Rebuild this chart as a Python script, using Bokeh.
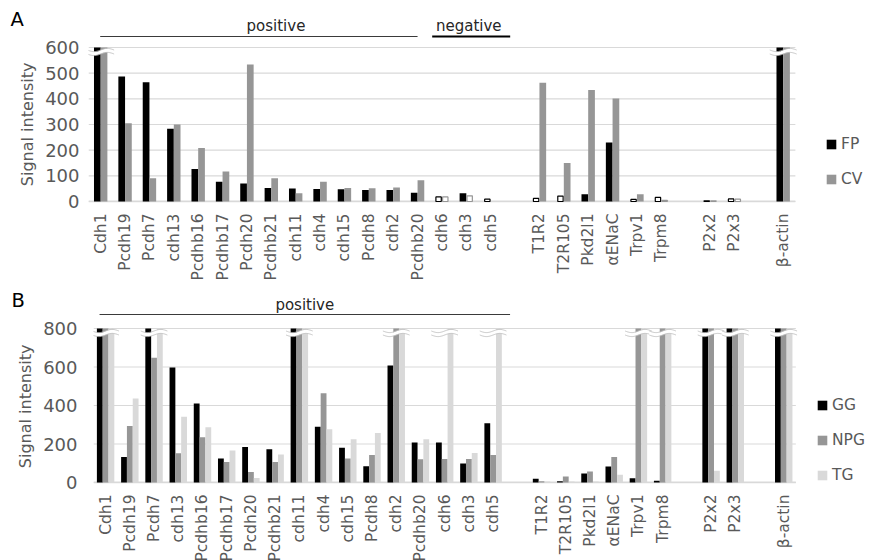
import numpy as np
from bokeh.plotting import figure
from bokeh.models import (ColumnDataSource, FactorRange, Range1d, Legend, LegendItem,
                          Label, FixedTicker)
from bokeh.layouts import column
from bokeh.embed import file_html
from bokeh.resources import INLINE

# ---------------- data ----------------
blocks = [
    ["Cdh1", "Pcdh19", "Pcdh7", "cdh13", "Pcdhb16", "Pcdhb17", "Pcdh20", "Pcdhb21",
     "cdh11", "cdh4", "cdh15", "Pcdh8", "cdh2", "Pcdhb20", "cdh6", "cdh3", "cdh5"],
    ["T1R2", "T2R105", "Pkd2l1", "αENaC", "Trpv1", "Trpm8"],
    ["P2x2", "P2x3"],
    ["β-actin"],
]

# Panel A (values above 600 are drawn broken)
A_FP = [2000, 487, 465, 283, 127, 77, 70, 53, 51, 49, 48, 45, 45, 34, 18, 32, 9,
        12, 21, 28, 230, 8, 16, 3, 10, 2000]
A_CV = [2000, 305, 91, 300, 208, 117, 534, 91, 32, 77, 53, 52, 55, 83, 18, 22, 0,
        463, 150, 434, 401, 28, 4, 3, 9, 2000]
# bars drawn as open (white) boxes
A_FP_open = ["cdh6", "cdh5", "T1R2", "T2R105", "Trpv1", "Trpm8", "P2x2", "P2x3"]
A_CV_open = ["cdh6", "cdh3", "Trpm8", "P2x2", "P2x3"]

# Panel B (values above 800 are drawn broken)
B_GG = [3000, 133, 3000, 597, 410, 125, 185, 173, 3000, 289, 180, 85, 608, 208, 208, 99, 308,
        19, 7, 47, 83, 22, 9, 3000, 3000, 3000]
B_NPG = [3000, 293, 648, 152, 235, 107, 54, 107, 3000, 464, 125, 143, 3000, 121, 122, 122, 143,
         7, 31, 57, 133, 3000, 3000, 3000, 3000, 3000]
B_TG = [3000, 436, 3000, 341, 287, 166, 23, 145, 3000, 277, 225, 257, 3000, 225, 3000, 153, 3000,
        5, 5, 5, 40, 3000, 3000, 61, 3000, 3000]

A_groups = [("positive", "Cdh1", "Pcdhb20"), ("negative", "cdh6", "cdh5")]
B_groups = [("positive", "Cdh1", "cdh5")]

# ---------------- helpers ----------------
FONT = "DejaVu Sans"
TXT = "#595959"
GRID = "#d9d9d9"
NBSP = "\u00a0"

factors = []
slot_of = {}
for bi, blk in enumerate(blocks):
    if bi > 0:
        factors.append(" " * bi)
    for c in blk:
        slot_of[c] = len(factors)
        factors.append(c)
n_data_slots = len(factors)
factors += [" " * k for k in range(len(blocks), len(blocks) + 3)]  # room for legend
cats = [c for blk in blocks for c in blk]
slots = np.array([slot_of[c] for c in cats]) + 0.5


def make_panel(letter, series, names, fills, outlines, open_lists, ymax, ystep,
               left, fw, top_px, grid_top_px, zero_px, bottom, bar_w, groups, grp_px, txt_px,
               tick_standoff, title_standoff, label_standoff, legend_loc,
               letter_x_px, letter_y_px, title_pad):
    # page-pixel geometry: frame top at top_px, top gridline at grid_top_px, zero at zero_px
    px = ymax / float(zero_px - grid_top_px)
    fh = zero_px - top_px + 1
    y_end = ymax + (grid_top_px - top_px) * px
    p = figure(frame_width=fw, frame_height=fh,
               x_range=FactorRange(factors=factors), y_range=Range1d(-1 * px, y_end),
               output_backend="svg", toolbar_location=None,
               min_border_left=left, min_border_right=0,
               min_border_top=0, min_border_bottom=bottom)
    p.frame_align = False
    p.outline_line_color = None
    p.background_fill_color = "white"
    p.border_fill_color = "white"

    # gridlines and base line
    ticks = list(range(0, ymax + 1, ystep))
    p.segment(x0=[0] * len(ticks), x1=[n_data_slots] * len(ticks), y0=ticks, y1=ticks,
              line_color=GRID, line_width=1.2)
    p.segment(x0=[0], x1=[n_data_slots], y0=[0], y1=[0], line_color=GRID, line_width=2)

    n = len(series)
    items = []
    for k, (vals, name) in enumerate(zip(series, names)):
        off = (k - (n - 1) / 2) * bar_w
        tops = np.minimum(np.array(vals, dtype=float), ymax)
        is_open = np.array([c in open_lists[k] for c in cats])
        src_f = ColumnDataSource(dict(x=(slots + off)[~is_open], top=tops[~is_open]))
        r = p.vbar(x="x", top="top", width=bar_w, source=src_f,
                   fill_color=fills[k], line_color=None)
        if is_open.any():
            src_o = ColumnDataSource(dict(x=(slots + off)[is_open], top=tops[is_open]))
            p.vbar(x="x", top="top", width=bar_w * 0.8, source=src_o,
                   fill_color="white", line_color=outlines[k], line_width=1.2)
        items.append(LegendItem(label=name, renderers=[r]))

    # break marks
    broken = np.zeros(len(cats), dtype=bool)
    for vals in series:
        broken |= np.array(vals) > ymax
    for c in slots[broken]:
        xs = np.linspace(c - 0.55, c + 0.55, 40)
        base = ymax - 4.5 * px + 1.6 * px * np.sin(2 * np.pi * (xs - c) / 1.1)
        p.line(xs, base, line_color="white", line_width=3.5)
        p.line(xs, base + 2 * px, line_color="#c0c0c0", line_width=0.9)
        p.line(xs, base - 2 * px, line_color="#c0c0c0", line_width=0.9)

    # axes
    p.xgrid.grid_line_color = None
    p.ygrid.grid_line_color = None
    p.yaxis.ticker = FixedTicker(ticks=ticks)
    p.yaxis.axis_line_color = None
    p.yaxis.major_tick_line_color = None
    p.yaxis.major_tick_out = 0
    p.yaxis.minor_tick_line_color = None
    p.yaxis.minor_tick_out = 0
    p.yaxis.major_label_text_font = FONT
    p.yaxis.major_label_text_font_size = "18px"
    p.yaxis.major_label_text_color = TXT
    p.yaxis.major_label_standoff = tick_standoff
    # trailing no-break spaces move the centred title down to the centre of the 0..max span
    p.yaxis.axis_label = "Signal intensity" + NBSP * title_pad
    p.yaxis.axis_label_text_font = FONT
    p.yaxis.axis_label_text_font_size = "16px"
    p.yaxis.axis_label_text_font_style = "normal"
    p.yaxis.axis_label_text_color = TXT
    p.yaxis.axis_label_standoff = title_standoff

    p.xaxis.axis_line_color = None
    p.xaxis.major_tick_line_color = None
    p.xaxis.major_tick_out = 0
    p.xaxis.major_label_orientation = np.pi / 2
    p.xaxis.major_label_text_font = FONT
    p.xaxis.major_label_text_font_size = "15.5px"
    p.xaxis.major_label_text_color = TXT
    p.xaxis.major_label_standoff = label_standoff

    # group annotations above the plot area
    for gname, first, last in groups:
        if gname == "positive":
            x0 = slot_of[first] + (0.48 if letter == "A" else 0.25)
            x1 = slot_of[last] + (0.5 if letter == "A" else 1.2)
            lw, lc = 1.0, "#3a3a3a"
            tx = (x0 + x1) / 2 + (0.7 if letter == "A" else 0.0)
        else:
            x0 = slot_of[first] + 0.1
            x1 = slot_of[last] + 1.3
            lw, lc = 2.0, "black"
            tx = (x0 + x1) / 2 - 0.1
        yl = ymax + grp_px * px
        p.segment(x0=[x0], x1=[x1], y0=[yl], y1=[yl], line_color=lc, line_width=lw)
        p.add_layout(Label(x=tx, y=ymax + txt_px * px, text=gname, text_align="center",
                           text_baseline="middle", text_font=FONT, text_font_size="15px",
                           text_color="#262626"))

    legend = Legend(items=items, location=legend_loc, orientation="vertical",
                    border_line_color=None, background_fill_alpha=0,
                    padding=0, margin=0, spacing=15,
                    glyph_width=12, glyph_height=12, label_height=20,
                    label_standoff=4, label_text_font=FONT, label_text_font_size="15.5px",
                    label_text_color=TXT)
    p.add_layout(legend)

    # panel letter in the left margin
    p.add_layout(Label(x=0, y=y_end, x_offset=letter_x_px, y_offset=letter_y_px, text=letter,
                       text_align="left", text_baseline="middle", text_font=FONT,
                       text_font_size="19.5px", text_color="black"), "left")
    return p


TOP0 = 1  # page y of the first figure's top edge
pA = make_panel("A", [A_FP, A_CV], ["FP", "CV"], ["black", "#969696"], ["black", "#969696"],
                [A_FP_open, A_CV_open], 600, 100,
                left=88, fw=780, top_px=TOP0, grid_top_px=48, zero_px=202, bottom=80,
                bar_w=0.275, groups=A_groups, grp_px=11, txt_px=22,
                tick_standoff=9, title_standoff=5, label_standoff=11,
                legend_loc=(737, 13), letter_x_px=-78, letter_y_px=-(20 - TOP0),
                title_pad=9)

B_top = TOP0 + (202 - TOP0 + 1) + 80
pB = make_panel("B", [B_GG, B_NPG, B_TG], ["GG", "NPG", "TG"],
                ["black", "#969696", "#d9d9d9"], ["black", "#969696", "#d9d9d9"],
                [[], [], []], 800, 200,
                left=93, fw=775, top_px=B_top, grid_top_px=328, zero_px=482, bottom=60,
                bar_w=0.24, groups=B_groups, grp_px=14, txt_px=24,
                tick_standoff=16, title_standoff=5, label_standoff=11,
                legend_loc=(723, -2), letter_x_px=-82, letter_y_px=-(300 - B_top),
                title_pad=9)

layout = column(pA, pB, spacing=0)
open("out.html", "w").write(file_html(layout, INLINE))
